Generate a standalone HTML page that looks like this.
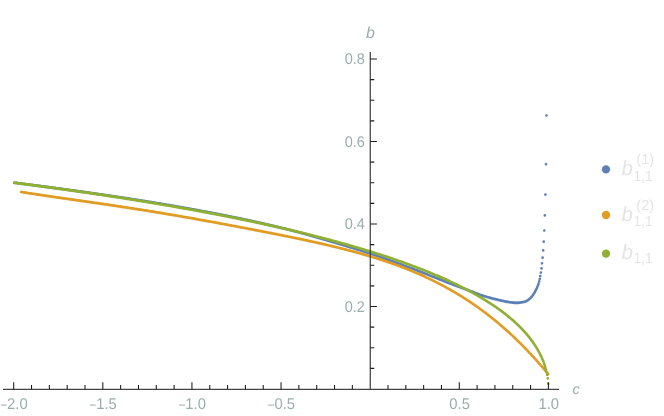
<!DOCTYPE html>
<html><head><meta charset="utf-8"><title>plot</title>
<style>
html,body{margin:0;padding:0;background:#fff;}
body{width:664px;height:416px;overflow:hidden;font-family:"Liberation Sans",sans-serif;}
svg{display:block;will-change:transform;}
text{font-family:"Liberation Sans",sans-serif;text-rendering:geometricPrecision;}
</style></head><body>
<svg width="664" height="416" viewBox="0 0 664 416">
<defs><filter id="nf" x="0" y="0" width="664" height="416" filterUnits="userSpaceOnUse"><feOffset dx="0" dy="0"/></filter></defs>
<rect width="664" height="416" fill="#fff"/>
<g fill="none" stroke-linecap="round" stroke-width="2.7">
<path stroke="#5e81b5" d="M14.3 182.8h0M14.9 182.9h0M15.4 183.0h0M16.0 183.0h0M16.6 183.1h0M17.1 183.2h0M17.7 183.2h0M18.2 183.3h0M18.8 183.4h0M19.4 183.5h0M19.9 183.5h0M20.5 183.6h0M21.1 183.7h0M21.6 183.7h0M22.2 183.8h0M22.7 183.9h0M23.3 184.0h0M23.9 184.0h0M24.4 184.1h0M25.0 184.2h0M25.6 184.2h0M26.1 184.3h0M26.7 184.4h0M27.3 184.5h0M27.8 184.5h0M28.4 184.6h0M28.9 184.7h0M29.5 184.7h0M30.1 184.8h0M30.6 184.9h0M31.2 185.0h0M31.8 185.0h0M32.3 185.1h0M32.9 185.2h0M33.5 185.2h0M34.0 185.3h0M34.6 185.4h0M35.1 185.5h0M35.7 185.5h0M36.3 185.6h0M36.8 185.7h0M37.4 185.8h0M38.0 185.8h0M38.5 185.9h0M39.1 186.0h0M39.6 186.0h0M40.2 186.1h0M40.8 186.2h0M41.3 186.3h0M41.9 186.3h0M42.5 186.4h0M43.0 186.5h0M43.6 186.6h0M44.2 186.6h0M44.7 186.7h0M45.3 186.8h0M45.8 186.9h0M46.4 186.9h0M47.0 187.0h0M47.5 187.1h0M48.1 187.2h0M48.7 187.2h0M49.2 187.3h0M49.8 187.4h0M50.3 187.5h0M50.9 187.5h0M51.5 187.6h0M52.0 187.7h0M52.6 187.8h0M53.2 187.8h0M53.7 187.9h0M54.3 188.0h0M54.9 188.1h0M55.4 188.1h0M56.0 188.2h0M56.5 188.3h0M57.1 188.4h0M57.7 188.4h0M58.2 188.5h0M58.8 188.6h0M59.4 188.7h0M59.9 188.7h0M60.5 188.8h0M61.0 188.9h0M61.6 189.0h0M62.2 189.0h0M62.7 189.1h0M63.3 189.2h0M63.9 189.3h0M64.4 189.3h0M65.0 189.4h0M65.6 189.5h0M66.1 189.6h0M66.7 189.7h0M67.2 189.7h0M67.8 189.8h0M68.4 189.9h0M68.9 190.0h0M69.5 190.0h0M70.1 190.1h0M70.6 190.2h0M71.2 190.3h0M71.7 190.4h0M72.3 190.4h0M72.9 190.5h0M73.4 190.6h0M74.0 190.7h0M74.6 190.7h0M75.1 190.8h0M75.7 190.9h0M76.3 191.0h0M76.8 191.1h0M77.4 191.1h0M77.9 191.2h0M78.5 191.3h0M79.1 191.4h0M79.6 191.4h0M80.2 191.5h0M80.8 191.6h0M81.3 191.7h0M81.9 191.8h0M82.4 191.8h0M83.0 191.9h0M83.6 192.0h0M84.1 192.1h0M84.7 192.2h0M85.3 192.2h0M85.8 192.3h0M86.4 192.4h0M87.0 192.5h0M87.5 192.6h0M88.1 192.6h0M88.6 192.7h0M89.2 192.8h0M89.8 192.9h0M90.3 193.0h0M90.9 193.0h0M91.5 193.1h0M92.0 193.2h0M92.6 193.3h0M93.2 193.4h0M93.7 193.4h0M94.3 193.5h0M94.8 193.6h0M95.4 193.7h0M96.0 193.8h0M96.5 193.9h0M97.1 193.9h0M97.7 194.0h0M98.2 194.1h0M98.8 194.2h0M99.3 194.3h0M99.9 194.3h0M100.5 194.4h0M101.0 194.5h0M101.6 194.6h0M102.2 194.7h0M102.7 194.8h0M103.3 194.8h0M103.9 194.9h0M104.4 195.0h0M105.0 195.1h0M105.5 195.2h0M106.1 195.3h0M106.7 195.3h0M107.2 195.4h0M107.8 195.5h0M108.4 195.6h0M108.9 195.7h0M109.5 195.8h0M110.0 195.8h0M110.6 195.9h0M111.2 196.0h0M111.7 196.1h0M112.3 196.2h0M112.9 196.3h0M113.4 196.3h0M114.0 196.4h0M114.6 196.5h0M115.1 196.6h0M115.7 196.7h0M116.2 196.8h0M116.8 196.9h0M117.4 196.9h0M117.9 197.0h0M118.5 197.1h0M119.1 197.2h0M119.6 197.3h0M120.2 197.4h0M120.7 197.4h0M121.3 197.5h0M121.9 197.6h0M122.4 197.7h0M123.0 197.8h0M123.6 197.9h0M124.1 198.0h0M124.7 198.1h0M125.3 198.1h0M125.8 198.2h0M126.4 198.3h0M126.9 198.4h0M127.5 198.5h0M128.1 198.6h0M128.6 198.7h0M129.2 198.7h0M129.8 198.8h0M130.3 198.9h0M130.9 199.0h0M131.4 199.1h0M132.0 199.2h0M132.6 199.3h0M133.1 199.4h0M133.7 199.4h0M134.3 199.5h0M134.8 199.6h0M135.4 199.7h0M136.0 199.8h0M136.5 199.9h0M137.1 200.0h0M137.6 200.1h0M138.2 200.2h0M138.8 200.2h0M139.3 200.3h0M139.9 200.4h0M140.5 200.5h0M141.0 200.6h0M141.6 200.7h0M142.1 200.8h0M142.7 200.9h0M143.3 201.0h0M143.8 201.1h0M144.4 201.1h0M145.0 201.2h0M145.5 201.3h0M146.1 201.4h0M146.7 201.5h0M147.2 201.6h0M147.8 201.7h0M148.3 201.8h0M148.9 201.9h0M149.5 202.0h0M150.0 202.1h0M150.6 202.1h0M151.2 202.2h0M151.7 202.3h0M152.3 202.4h0M152.9 202.5h0M153.4 202.6h0M154.0 202.7h0M154.5 202.8h0M155.1 202.9h0M155.7 203.0h0M156.2 203.1h0M156.8 203.2h0M157.4 203.3h0M157.9 203.4h0M158.5 203.4h0M159.0 203.5h0M159.6 203.6h0M160.2 203.7h0M160.7 203.8h0M161.3 203.9h0M161.9 204.0h0M162.4 204.1h0M163.0 204.2h0M163.6 204.3h0M164.1 204.4h0M164.7 204.5h0M165.2 204.6h0M165.8 204.7h0M166.4 204.8h0M166.9 204.9h0M167.5 205.0h0M168.1 205.1h0M168.6 205.2h0M169.2 205.2h0M169.7 205.3h0M170.3 205.4h0M170.9 205.5h0M171.4 205.6h0M172.0 205.7h0M172.6 205.8h0M173.1 205.9h0M173.7 206.0h0M174.3 206.1h0M174.8 206.2h0M175.4 206.3h0M175.9 206.4h0M176.5 206.5h0M177.1 206.6h0M177.6 206.7h0M178.2 206.8h0M178.8 206.9h0M179.3 207.0h0M179.9 207.1h0M180.4 207.2h0M181.0 207.3h0M181.6 207.4h0M182.1 207.5h0M182.7 207.6h0M183.3 207.7h0M183.8 207.8h0M184.4 207.9h0M185.0 208.0h0M185.5 208.1h0M186.1 208.2h0M186.6 208.3h0M187.2 208.4h0M187.8 208.5h0M188.3 208.6h0M188.9 208.7h0M189.5 208.8h0M190.0 208.9h0M190.6 209.0h0M191.1 209.1h0M191.7 209.2h0M192.3 209.3h0M192.8 209.4h0M193.4 209.5h0M194.0 209.6h0M194.5 209.7h0M195.1 209.8h0M195.7 209.9h0M196.2 210.0h0M196.8 210.1h0M197.3 210.2h0M197.9 210.3h0M198.5 210.4h0M199.0 210.5h0M199.6 210.6h0M200.2 210.7h0M200.7 210.8h0M201.3 211.0h0M201.8 211.1h0M202.4 211.2h0M203.0 211.3h0M203.5 211.4h0M204.1 211.5h0M204.7 211.6h0M205.2 211.7h0M205.8 211.8h0M206.4 211.9h0M206.9 212.0h0M207.5 212.1h0M208.0 212.2h0M208.6 212.3h0M209.2 212.4h0M209.7 212.5h0M210.3 212.6h0M210.9 212.7h0M211.4 212.9h0M212.0 213.0h0M212.6 213.1h0M213.1 213.2h0M213.7 213.3h0M214.2 213.4h0M214.8 213.5h0M215.4 213.6h0M215.9 213.7h0M216.5 213.8h0M217.1 213.9h0M217.6 214.0h0M218.2 214.2h0M218.7 214.3h0M219.3 214.4h0M219.9 214.5h0M220.4 214.6h0M221.0 214.7h0M221.6 214.8h0M222.1 214.9h0M222.7 215.0h0M223.3 215.1h0M223.8 215.3h0M224.4 215.4h0M224.9 215.5h0M225.5 215.6h0M226.1 215.7h0M226.6 215.8h0M227.2 215.9h0M227.8 216.0h0M228.3 216.2h0M228.9 216.3h0M229.4 216.4h0M230.0 216.5h0M230.6 216.6h0M231.1 216.7h0M231.7 216.8h0M232.3 217.0h0M232.8 217.1h0M233.4 217.2h0M234.0 217.3h0M234.5 217.4h0M235.1 217.5h0M235.6 217.6h0M236.2 217.8h0M236.8 217.9h0M237.3 218.0h0M237.9 218.1h0M238.5 218.2h0M239.0 218.3h0M239.6 218.5h0M240.1 218.6h0M240.7 218.7h0M241.3 218.8h0M241.8 218.9h0M242.4 219.0h0M243.0 219.2h0M243.5 219.3h0M244.1 219.4h0M244.7 219.5h0M245.2 219.6h0M245.8 219.8h0M246.3 219.9h0M246.9 220.0h0M247.5 220.1h0M248.0 220.2h0M248.6 220.4h0M249.2 220.5h0M249.7 220.6h0M250.3 220.7h0M250.8 220.9h0M251.4 221.0h0M252.0 221.1h0M252.5 221.2h0M253.1 221.4h0M253.7 221.5h0M254.2 221.6h0M254.8 221.7h0M255.4 221.8h0M255.9 222.0h0M256.5 222.1h0M257.0 222.2h0M257.6 222.3h0M258.2 222.5h0M258.7 222.6h0M259.3 222.7h0M259.9 222.8h0M260.4 223.0h0M261.0 223.1h0M261.5 223.2h0M262.1 223.4h0M262.7 223.5h0M263.2 223.6h0M263.8 223.7h0M264.4 223.9h0M264.9 224.0h0M265.5 224.1h0M266.1 224.3h0M266.6 224.4h0M267.2 224.5h0M267.7 224.6h0M268.3 224.8h0M268.9 224.9h0M269.4 225.0h0M270.0 225.2h0M270.6 225.3h0M271.1 225.4h0M271.7 225.6h0M272.3 225.7h0M272.8 225.8h0M273.4 226.0h0M273.9 226.1h0M274.5 226.2h0M275.1 226.4h0M275.6 226.5h0M276.2 226.6h0M276.8 226.8h0M277.3 226.9h0M277.9 227.0h0M278.4 227.2h0M279.0 227.3h0M279.6 227.4h0M280.1 227.6h0M280.7 227.7h0M281.3 227.9h0M281.8 228.0h0M282.4 228.1h0M283.0 228.3h0M283.5 228.4h0M284.1 228.5h0M284.6 228.7h0M285.2 228.8h0M285.8 229.0h0M286.3 229.1h0M286.9 229.2h0M287.5 229.4h0M288.0 229.5h0M288.6 229.7h0M289.1 229.8h0M289.7 230.0h0M290.3 230.1h0M290.8 230.2h0M291.4 230.4h0M292.0 230.5h0M292.5 230.7h0M293.1 230.8h0M293.7 231.0h0M294.2 231.1h0M294.8 231.3h0M295.3 231.4h0M295.9 231.6h0M296.5 231.7h0M297.0 231.9h0M297.6 232.0h0M298.2 232.2h0M298.7 232.3h0M299.3 232.5h0M299.8 232.6h0M300.4 232.8h0M301.0 232.9h0M301.5 233.1h0M302.1 233.2h0M302.7 233.4h0M303.2 233.6h0M303.8 233.7h0M304.4 233.9h0M304.9 234.0h0M305.5 234.2h0M306.0 234.3h0M306.6 234.5h0M307.2 234.7h0M307.7 234.8h0M308.3 235.0h0M308.9 235.1h0M309.4 235.3h0M310.0 235.5h0M310.5 235.6h0M311.1 235.8h0M311.7 235.9h0M312.2 236.1h0M312.8 236.3h0M313.4 236.4h0M313.9 236.6h0M314.5 236.7h0M315.1 236.9h0M315.6 237.1h0M316.2 237.2h0M316.7 237.4h0M317.3 237.6h0M317.9 237.7h0M318.4 237.9h0M319.0 238.1h0M319.6 238.2h0M320.1 238.4h0M320.7 238.5h0M321.2 238.7h0M321.8 238.9h0M322.4 239.0h0M322.9 239.2h0M323.5 239.4h0M324.1 239.5h0M324.6 239.7h0M325.2 239.9h0M325.8 240.0h0M326.3 240.2h0M326.9 240.4h0M327.4 240.5h0M328.0 240.7h0M328.6 240.9h0M329.1 241.0h0M329.7 241.2h0M330.3 241.4h0M330.8 241.5h0M331.4 241.7h0M332.0 241.9h0M332.5 242.0h0M333.1 242.2h0M333.6 242.3h0M334.2 242.5h0M334.8 242.7h0M335.3 242.8h0M335.9 243.0h0M336.5 243.2h0M337.0 243.3h0M337.6 243.5h0M338.1 243.7h0M338.7 243.8h0M339.3 244.0h0M339.8 244.2h0M340.4 244.3h0M341.0 244.5h0M341.5 244.7h0M342.1 244.9h0M342.7 245.0h0M343.2 245.2h0M343.8 245.4h0M344.3 245.5h0M344.9 245.7h0M345.5 245.9h0M346.0 246.0h0M346.6 246.2h0M347.2 246.4h0M347.7 246.5h0M348.3 246.7h0M348.8 246.9h0M349.4 247.1h0M350.0 247.2h0M350.5 247.4h0M351.1 247.6h0M351.7 247.7h0M352.2 247.9h0M352.8 248.1h0M353.4 248.3h0M353.9 248.4h0M354.5 248.6h0M355.0 248.8h0M355.6 249.0h0M356.2 249.1h0M356.7 249.3h0M357.3 249.5h0M357.9 249.7h0M358.4 249.8h0M359.0 250.0h0M359.5 250.2h0M360.1 250.4h0M360.7 250.5h0M361.2 250.7h0M361.8 250.9h0M362.4 251.1h0M362.9 251.3h0M363.5 251.4h0M364.1 251.6h0M364.6 251.8h0M365.2 252.0h0M365.7 252.2h0M366.3 252.3h0M366.9 252.5h0M367.4 252.7h0M368.0 252.9h0M368.6 253.1h0M369.1 253.3h0M369.7 253.4h0M370.2 253.6h0M370.8 253.8h0M371.4 254.0h0M371.9 254.2h0M372.5 254.4h0M373.1 254.6h0M373.6 254.7h0M374.2 254.9h0M374.8 255.1h0M375.3 255.3h0M375.9 255.5h0M376.4 255.7h0M377.0 255.9h0M377.6 256.1h0M378.1 256.3h0M378.7 256.5h0M379.3 256.7h0M379.8 256.8h0M380.4 257.0h0M380.9 257.2h0M381.5 257.4h0M382.1 257.6h0M382.6 257.8h0M383.2 258.0h0M383.8 258.2h0M384.3 258.4h0M384.9 258.6h0M385.5 258.8h0M386.0 259.0h0M386.6 259.2h0M387.1 259.4h0M387.7 259.6h0M388.3 259.8h0M388.8 260.0h0M389.4 260.2h0M390.0 260.4h0M390.5 260.6h0M391.1 260.8h0M391.7 261.0h0M392.2 261.2h0M392.8 261.4h0M393.3 261.6h0M393.9 261.8h0M394.5 262.1h0M395.0 262.3h0M395.6 262.5h0M396.2 262.7h0M396.7 262.9h0M397.3 263.1h0M397.8 263.3h0M398.4 263.5h0M399.0 263.7h0M399.5 263.9h0M400.1 264.1h0M400.7 264.3h0M401.2 264.5h0M401.8 264.7h0M402.4 265.0h0M402.9 265.2h0M403.5 265.4h0M404.0 265.6h0M404.6 265.8h0M405.2 266.0h0M405.7 266.2h0M406.3 266.4h0M406.9 266.6h0M407.4 266.8h0M408.0 267.1h0M408.5 267.3h0M409.1 267.5h0M409.7 267.7h0M410.2 267.9h0M410.8 268.1h0M411.4 268.3h0M411.9 268.5h0M412.5 268.7h0M413.1 269.0h0M413.6 269.2h0M414.2 269.4h0M414.7 269.6h0M415.3 269.8h0M415.9 270.0h0M416.4 270.2h0M417.0 270.5h0M417.6 270.7h0M418.1 270.9h0M418.7 271.1h0M419.2 271.3h0M419.8 271.5h0M420.4 271.8h0M420.9 272.0h0M421.5 272.2h0M422.1 272.4h0M422.6 272.6h0M423.2 272.9h0M423.8 273.1h0M424.3 273.3h0M424.9 273.5h0M425.4 273.7h0M426.0 274.0h0M426.6 274.2h0M427.1 274.4h0M427.7 274.6h0M428.3 274.9h0M428.8 275.1h0M429.4 275.3h0M429.9 275.5h0M430.5 275.8h0M431.1 276.0h0M431.6 276.2h0M432.2 276.4h0M432.8 276.7h0M433.3 276.9h0M433.9 277.1h0M434.5 277.3h0M435.0 277.6h0M435.6 277.8h0M436.1 278.0h0M436.7 278.2h0M437.3 278.5h0M437.8 278.7h0M438.4 278.9h0M439.0 279.1h0M439.5 279.4h0M440.1 279.6h0M440.6 279.8h0M441.2 280.1h0M441.8 280.3h0M442.3 280.5h0M442.9 280.7h0M443.5 281.0h0M444.0 281.2h0M444.6 281.4h0M445.2 281.6h0M445.7 281.9h0M446.3 282.1h0M446.8 282.3h0M447.4 282.5h0M448.0 282.8h0M448.5 283.0h0M449.1 283.2h0M449.7 283.4h0M450.2 283.6h0M450.8 283.8h0M451.4 284.0h0M451.9 284.2h0M452.5 284.5h0M453.0 284.7h0M453.6 284.9h0M454.2 285.1h0M454.7 285.3h0M455.3 285.5h0M455.9 285.7h0M456.4 285.9h0M457.0 286.1h0M457.5 286.3h0M458.1 286.5h0M458.7 286.7h0M459.2 286.9h0M459.8 287.1h0M460.4 287.3h0M460.9 287.6h0M461.5 287.8h0M462.1 288.0h0M462.6 288.2h0M463.2 288.4h0M463.7 288.6h0M464.3 288.8h0M464.9 289.0h0M465.4 289.2h0M466.0 289.4h0M466.6 289.6h0M467.1 289.8h0M467.7 290.0h0M468.2 290.2h0M468.8 290.4h0M469.4 290.7h0M469.9 290.9h0M470.5 291.1h0M471.1 291.3h0M471.6 291.5h0M472.2 291.7h0M472.8 292.0h0M473.3 292.2h0M473.9 292.4h0M474.4 292.6h0M475.0 292.8h0M475.6 293.1h0M476.1 293.3h0M476.7 293.5h0M477.3 293.7h0M477.8 293.9h0M478.4 294.1h0M478.9 294.3h0M479.5 294.6h0M480.1 294.8h0M480.6 295.0h0M481.2 295.2h0M481.8 295.4h0M482.3 295.6h0M482.9 295.7h0M483.5 295.9h0M484.0 296.1h0M484.6 296.3h0M485.1 296.5h0M485.7 296.6h0M486.3 296.8h0M486.8 297.0h0M487.4 297.1h0M488.0 297.3h0M488.5 297.4h0M489.1 297.6h0M489.6 297.8h0M490.2 297.9h0M490.8 298.1h0M491.3 298.2h0M491.9 298.4h0M492.5 298.5h0M493.0 298.7h0M493.6 298.8h0M494.2 299.0h0M494.7 299.1h0M495.3 299.2h0M495.8 299.4h0M496.4 299.5h0M497.0 299.6h0M497.5 299.8h0M498.1 299.9h0M498.7 300.0h0M499.2 300.2h0M499.8 300.3h0M500.3 300.4h0M500.9 300.6h0M501.5 300.7h0M502.0 300.8h0M502.6 301.0h0M503.2 301.1h0M503.7 301.2h0M504.3 301.3h0M504.9 301.4h0M505.4 301.6h0M506.0 301.7h0M506.5 301.8h0M507.1 301.9h0M507.7 301.9h0M508.2 302.0h0M508.8 302.1h0M509.4 302.2h0M509.9 302.3h0M510.5 302.3h0M511.1 302.4h0M511.6 302.5h0M512.2 302.6h0M512.7 302.6h0M513.3 302.7h0M513.9 302.8h0M514.4 302.8h0M515.0 302.8h0M515.6 302.9h0M516.1 302.9h0M516.7 302.9h0M517.2 302.9h0M517.8 302.9h0M518.4 302.8h0M518.9 302.8h0M519.5 302.7h0M520.1 302.7h0M520.6 302.6h0M521.2 302.5h0M521.8 302.4h0M522.3 302.3h0M522.9 302.2h0M523.4 302.1h0M524.0 302.0h0M524.6 301.8h0M525.1 301.7h0M525.7 301.5h0M526.3 301.2h0M526.8 300.9h0M527.4 300.6h0M527.9 300.2h0M528.5 299.8h0M529.1 299.3h0M529.6 298.8h0M530.2 298.3h0M530.8 297.8h0M531.3 297.2h0M531.9 296.5h0M532.5 295.8h0M533.0 295.0h0M533.6 294.2h0M534.1 293.3h0M534.7 292.4h0M535.3 291.3h0M535.8 290.2h0M536.4 289.0h0M537.0 287.8h0M537.5 286.6h0M538.1 285.2h0M538.6 283.4h0M539.2 281.3h0M539.8 278.9h0M540.3 276.0h0M540.9 272.6h0M541.5 268.4h0M542.0 263.3h0M542.6 257.7h0M543.2 250.4h0M543.7 241.7h0M544.3 230.5h0M544.8 215.4h0M545.4 194.6h0M546.0 164.2h0M546.5 115.5h0"/>
<path stroke="#e19c24" d="M21.1 192.0h0M21.6 192.1h0M22.2 192.2h0M22.7 192.3h0M23.3 192.4h0M23.9 192.5h0M24.4 192.6h0M25.0 192.7h0M25.6 192.7h0M26.1 192.8h0M26.7 192.9h0M27.3 193.0h0M27.8 193.1h0M28.4 193.2h0M28.9 193.3h0M29.5 193.4h0M30.1 193.4h0M30.6 193.5h0M31.2 193.6h0M31.8 193.7h0M32.3 193.8h0M32.9 193.9h0M33.5 194.0h0M34.0 194.0h0M34.6 194.1h0M35.1 194.2h0M35.7 194.3h0M36.3 194.4h0M36.8 194.5h0M37.4 194.6h0M38.0 194.6h0M38.5 194.7h0M39.1 194.8h0M39.6 194.9h0M40.2 195.0h0M40.8 195.1h0M41.3 195.2h0M41.9 195.2h0M42.5 195.3h0M43.0 195.4h0M43.6 195.5h0M44.2 195.6h0M44.7 195.7h0M45.3 195.7h0M45.8 195.8h0M46.4 195.9h0M47.0 196.0h0M47.5 196.1h0M48.1 196.2h0M48.7 196.2h0M49.2 196.3h0M49.8 196.4h0M50.3 196.5h0M50.9 196.6h0M51.5 196.7h0M52.0 196.7h0M52.6 196.8h0M53.2 196.9h0M53.7 197.0h0M54.3 197.1h0M54.9 197.1h0M55.4 197.2h0M56.0 197.3h0M56.5 197.4h0M57.1 197.5h0M57.7 197.6h0M58.2 197.6h0M58.8 197.7h0M59.4 197.8h0M59.9 197.9h0M60.5 198.0h0M61.0 198.0h0M61.6 198.1h0M62.2 198.2h0M62.7 198.3h0M63.3 198.4h0M63.9 198.4h0M64.4 198.5h0M65.0 198.6h0M65.6 198.7h0M66.1 198.8h0M66.7 198.8h0M67.2 198.9h0M67.8 199.0h0M68.4 199.1h0M68.9 199.2h0M69.5 199.3h0M70.1 199.3h0M70.6 199.4h0M71.2 199.5h0M71.7 199.6h0M72.3 199.7h0M72.9 199.7h0M73.4 199.8h0M74.0 199.9h0M74.6 200.0h0M75.1 200.1h0M75.7 200.1h0M76.3 200.2h0M76.8 200.3h0M77.4 200.4h0M77.9 200.5h0M78.5 200.5h0M79.1 200.6h0M79.6 200.7h0M80.2 200.8h0M80.8 200.9h0M81.3 200.9h0M81.9 201.0h0M82.4 201.1h0M83.0 201.2h0M83.6 201.3h0M84.1 201.4h0M84.7 201.4h0M85.3 201.5h0M85.8 201.6h0M86.4 201.7h0M87.0 201.8h0M87.5 201.8h0M88.1 201.9h0M88.6 202.0h0M89.2 202.1h0M89.8 202.2h0M90.3 202.2h0M90.9 202.3h0M91.5 202.4h0M92.0 202.5h0M92.6 202.6h0M93.2 202.6h0M93.7 202.7h0M94.3 202.8h0M94.8 202.9h0M95.4 203.0h0M96.0 203.1h0M96.5 203.1h0M97.1 203.2h0M97.7 203.3h0M98.2 203.4h0M98.8 203.5h0M99.3 203.5h0M99.9 203.6h0M100.5 203.7h0M101.0 203.8h0M101.6 203.9h0M102.2 204.0h0M102.7 204.0h0M103.3 204.1h0M103.9 204.2h0M104.4 204.3h0M105.0 204.4h0M105.5 204.5h0M106.1 204.5h0M106.7 204.6h0M107.2 204.7h0M107.8 204.8h0M108.4 204.9h0M108.9 204.9h0M109.5 205.0h0M110.0 205.1h0M110.6 205.2h0M111.2 205.3h0M111.7 205.4h0M112.3 205.4h0M112.9 205.5h0M113.4 205.6h0M114.0 205.7h0M114.6 205.8h0M115.1 205.9h0M115.7 206.0h0M116.2 206.0h0M116.8 206.1h0M117.4 206.2h0M117.9 206.3h0M118.5 206.4h0M119.1 206.5h0M119.6 206.5h0M120.2 206.6h0M120.7 206.7h0M121.3 206.8h0M121.9 206.9h0M122.4 207.0h0M123.0 207.1h0M123.6 207.1h0M124.1 207.2h0M124.7 207.3h0M125.3 207.4h0M125.8 207.5h0M126.4 207.6h0M126.9 207.7h0M127.5 207.7h0M128.1 207.8h0M128.6 207.9h0M129.2 208.0h0M129.8 208.1h0M130.3 208.2h0M130.9 208.3h0M131.4 208.3h0M132.0 208.4h0M132.6 208.5h0M133.1 208.6h0M133.7 208.7h0M134.3 208.8h0M134.8 208.9h0M135.4 209.0h0M136.0 209.0h0M136.5 209.1h0M137.1 209.2h0M137.6 209.3h0M138.2 209.4h0M138.8 209.5h0M139.3 209.6h0M139.9 209.7h0M140.5 209.8h0M141.0 209.8h0M141.6 209.9h0M142.1 210.0h0M142.7 210.1h0M143.3 210.2h0M143.8 210.3h0M144.4 210.4h0M145.0 210.5h0M145.5 210.6h0M146.1 210.6h0M146.7 210.7h0M147.2 210.8h0M147.8 210.9h0M148.3 211.0h0M148.9 211.1h0M149.5 211.2h0M150.0 211.3h0M150.6 211.4h0M151.2 211.5h0M151.7 211.6h0M152.3 211.6h0M152.9 211.7h0M153.4 211.8h0M154.0 211.9h0M154.5 212.0h0M155.1 212.1h0M155.7 212.2h0M156.2 212.3h0M156.8 212.4h0M157.4 212.5h0M157.9 212.6h0M158.5 212.7h0M159.0 212.8h0M159.6 212.8h0M160.2 212.9h0M160.7 213.0h0M161.3 213.1h0M161.9 213.2h0M162.4 213.3h0M163.0 213.4h0M163.6 213.5h0M164.1 213.6h0M164.7 213.7h0M165.2 213.8h0M165.8 213.9h0M166.4 214.0h0M166.9 214.1h0M167.5 214.2h0M168.1 214.3h0M168.6 214.3h0M169.2 214.4h0M169.7 214.5h0M170.3 214.6h0M170.9 214.7h0M171.4 214.8h0M172.0 214.9h0M172.6 215.0h0M173.1 215.1h0M173.7 215.2h0M174.3 215.3h0M174.8 215.4h0M175.4 215.5h0M175.9 215.6h0M176.5 215.7h0M177.1 215.8h0M177.6 215.9h0M178.2 216.0h0M178.8 216.1h0M179.3 216.2h0M179.9 216.3h0M180.4 216.4h0M181.0 216.5h0M181.6 216.6h0M182.1 216.7h0M182.7 216.8h0M183.3 216.9h0M183.8 217.0h0M184.4 217.1h0M185.0 217.2h0M185.5 217.3h0M186.1 217.4h0M186.6 217.4h0M187.2 217.5h0M187.8 217.6h0M188.3 217.7h0M188.9 217.8h0M189.5 217.9h0M190.0 218.0h0M190.6 218.1h0M191.1 218.2h0M191.7 218.3h0M192.3 218.4h0M192.8 218.5h0M193.4 218.6h0M194.0 218.7h0M194.5 218.8h0M195.1 218.9h0M195.7 219.0h0M196.2 219.1h0M196.8 219.2h0M197.3 219.3h0M197.9 219.4h0M198.5 219.5h0M199.0 219.7h0M199.6 219.8h0M200.2 219.9h0M200.7 220.0h0M201.3 220.1h0M201.8 220.2h0M202.4 220.3h0M203.0 220.4h0M203.5 220.5h0M204.1 220.6h0M204.7 220.7h0M205.2 220.8h0M205.8 220.9h0M206.4 221.0h0M206.9 221.1h0M207.5 221.2h0M208.0 221.3h0M208.6 221.4h0M209.2 221.5h0M209.7 221.6h0M210.3 221.7h0M210.9 221.8h0M211.4 221.9h0M212.0 222.0h0M212.6 222.1h0M213.1 222.2h0M213.7 222.3h0M214.2 222.4h0M214.8 222.5h0M215.4 222.6h0M215.9 222.7h0M216.5 222.8h0M217.1 222.9h0M217.6 223.0h0M218.2 223.1h0M218.7 223.2h0M219.3 223.4h0M219.9 223.5h0M220.4 223.6h0M221.0 223.7h0M221.6 223.8h0M222.1 223.9h0M222.7 224.0h0M223.3 224.1h0M223.8 224.2h0M224.4 224.3h0M224.9 224.4h0M225.5 224.5h0M226.1 224.6h0M226.6 224.7h0M227.2 224.8h0M227.8 224.9h0M228.3 225.0h0M228.9 225.1h0M229.4 225.2h0M230.0 225.3h0M230.6 225.5h0M231.1 225.6h0M231.7 225.7h0M232.3 225.8h0M232.8 225.9h0M233.4 226.0h0M234.0 226.1h0M234.5 226.2h0M235.1 226.3h0M235.6 226.4h0M236.2 226.5h0M236.8 226.6h0M237.3 226.7h0M237.9 226.8h0M238.5 226.9h0M239.0 227.0h0M239.6 227.1h0M240.1 227.3h0M240.7 227.4h0M241.3 227.5h0M241.8 227.6h0M242.4 227.7h0M243.0 227.8h0M243.5 227.9h0M244.1 228.0h0M244.7 228.1h0M245.2 228.2h0M245.8 228.3h0M246.3 228.4h0M246.9 228.5h0M247.5 228.6h0M248.0 228.8h0M248.6 228.9h0M249.2 229.0h0M249.7 229.1h0M250.3 229.2h0M250.8 229.3h0M251.4 229.4h0M252.0 229.5h0M252.5 229.6h0M253.1 229.7h0M253.7 229.8h0M254.2 229.9h0M254.8 230.1h0M255.4 230.2h0M255.9 230.3h0M256.5 230.4h0M257.0 230.5h0M257.6 230.6h0M258.2 230.7h0M258.7 230.8h0M259.3 230.9h0M259.9 231.0h0M260.4 231.1h0M261.0 231.2h0M261.5 231.4h0M262.1 231.5h0M262.7 231.6h0M263.2 231.7h0M263.8 231.8h0M264.4 231.9h0M264.9 232.0h0M265.5 232.1h0M266.1 232.2h0M266.6 232.3h0M267.2 232.5h0M267.7 232.6h0M268.3 232.7h0M268.9 232.8h0M269.4 232.9h0M270.0 233.0h0M270.6 233.1h0M271.1 233.2h0M271.7 233.3h0M272.3 233.5h0M272.8 233.6h0M273.4 233.7h0M273.9 233.8h0M274.5 233.9h0M275.1 234.0h0M275.6 234.1h0M276.2 234.2h0M276.8 234.3h0M277.3 234.5h0M277.9 234.6h0M278.4 234.7h0M279.0 234.8h0M279.6 234.9h0M280.1 235.0h0M280.7 235.1h0M281.3 235.2h0M281.8 235.4h0M282.4 235.5h0M283.0 235.6h0M283.5 235.7h0M284.1 235.8h0M284.6 235.9h0M285.2 236.0h0M285.8 236.2h0M286.3 236.3h0M286.9 236.4h0M287.5 236.5h0M288.0 236.6h0M288.6 236.7h0M289.1 236.8h0M289.7 237.0h0M290.3 237.1h0M290.8 237.2h0M291.4 237.3h0M292.0 237.4h0M292.5 237.5h0M293.1 237.7h0M293.7 237.8h0M294.2 237.9h0M294.8 238.0h0M295.3 238.1h0M295.9 238.2h0M296.5 238.4h0M297.0 238.5h0M297.6 238.6h0M298.2 238.7h0M298.7 238.8h0M299.3 238.9h0M299.8 239.1h0M300.4 239.2h0M301.0 239.3h0M301.5 239.4h0M302.1 239.5h0M302.7 239.7h0M303.2 239.8h0M303.8 239.9h0M304.4 240.0h0M304.9 240.1h0M305.5 240.3h0M306.0 240.4h0M306.6 240.5h0M307.2 240.6h0M307.7 240.7h0M308.3 240.9h0M308.9 241.0h0M309.4 241.1h0M310.0 241.2h0M310.5 241.4h0M311.1 241.5h0M311.7 241.6h0M312.2 241.7h0M312.8 241.8h0M313.4 242.0h0M313.9 242.1h0M314.5 242.2h0M315.1 242.3h0M315.6 242.5h0M316.2 242.6h0M316.7 242.7h0M317.3 242.8h0M317.9 243.0h0M318.4 243.1h0M319.0 243.2h0M319.6 243.4h0M320.1 243.5h0M320.7 243.6h0M321.2 243.7h0M321.8 243.9h0M322.4 244.0h0M322.9 244.1h0M323.5 244.2h0M324.1 244.4h0M324.6 244.5h0M325.2 244.6h0M325.8 244.8h0M326.3 244.9h0M326.9 245.0h0M327.4 245.2h0M328.0 245.3h0M328.6 245.4h0M329.1 245.6h0M329.7 245.7h0M330.3 245.8h0M330.8 246.0h0M331.4 246.1h0M332.0 246.2h0M332.5 246.4h0M333.1 246.5h0M333.6 246.6h0M334.2 246.8h0M334.8 246.9h0M335.3 247.0h0M335.9 247.2h0M336.5 247.3h0M337.0 247.4h0M337.6 247.6h0M338.1 247.7h0M338.7 247.9h0M339.3 248.0h0M339.8 248.1h0M340.4 248.3h0M341.0 248.4h0M341.5 248.6h0M342.1 248.7h0M342.7 248.8h0M343.2 249.0h0M343.8 249.1h0M344.3 249.3h0M344.9 249.4h0M345.5 249.6h0M346.0 249.7h0M346.6 249.9h0M347.2 250.0h0M347.7 250.1h0M348.3 250.3h0M348.8 250.4h0M349.4 250.6h0M350.0 250.7h0M350.5 250.9h0M351.1 251.0h0M351.7 251.2h0M352.2 251.3h0M352.8 251.5h0M353.4 251.6h0M353.9 251.8h0M354.5 251.9h0M355.0 252.1h0M355.6 252.2h0M356.2 252.4h0M356.7 252.6h0M357.3 252.7h0M357.9 252.9h0M358.4 253.0h0M359.0 253.2h0M359.5 253.3h0M360.1 253.5h0M360.7 253.6h0M361.2 253.8h0M361.8 254.0h0M362.4 254.1h0M362.9 254.3h0M363.5 254.4h0M364.1 254.6h0M364.6 254.8h0M365.2 254.9h0M365.7 255.1h0M366.3 255.3h0M366.9 255.4h0M367.4 255.6h0M368.0 255.8h0M368.6 255.9h0M369.1 256.1h0M369.7 256.3h0M370.2 256.4h0M370.8 256.6h0M371.4 256.8h0M371.9 256.9h0M372.5 257.1h0M373.1 257.3h0M373.6 257.5h0M374.2 257.6h0M374.8 257.8h0M375.3 258.0h0M375.9 258.2h0M376.4 258.3h0M377.0 258.5h0M377.6 258.7h0M378.1 258.9h0M378.7 259.0h0M379.3 259.2h0M379.8 259.4h0M380.4 259.6h0M380.9 259.8h0M381.5 260.0h0M382.1 260.1h0M382.6 260.3h0M383.2 260.5h0M383.8 260.7h0M384.3 260.9h0M384.9 261.1h0M385.5 261.3h0M386.0 261.4h0M386.6 261.6h0M387.1 261.8h0M387.7 262.0h0M388.3 262.2h0M388.8 262.4h0M389.4 262.6h0M390.0 262.8h0M390.5 263.0h0M391.1 263.2h0M391.7 263.4h0M392.2 263.6h0M392.8 263.8h0M393.3 264.0h0M393.9 264.2h0M394.5 264.4h0M395.0 264.6h0M395.6 264.8h0M396.2 265.0h0M396.7 265.2h0M397.3 265.4h0M397.8 265.6h0M398.4 265.8h0M399.0 266.0h0M399.5 266.2h0M400.1 266.5h0M400.7 266.7h0M401.2 266.9h0M401.8 267.1h0M402.4 267.3h0M402.9 267.5h0M403.5 267.7h0M404.0 268.0h0M404.6 268.2h0M405.2 268.4h0M405.7 268.6h0M406.3 268.8h0M406.9 269.1h0M407.4 269.3h0M408.0 269.5h0M408.5 269.7h0M409.1 270.0h0M409.7 270.2h0M410.2 270.4h0M410.8 270.7h0M411.4 270.9h0M411.9 271.1h0M412.5 271.3h0M413.1 271.6h0M413.6 271.8h0M414.2 272.1h0M414.7 272.3h0M415.3 272.5h0M415.9 272.8h0M416.4 273.0h0M417.0 273.3h0M417.6 273.5h0M418.1 273.7h0M418.7 274.0h0M419.2 274.2h0M419.8 274.5h0M420.4 274.7h0M420.9 275.0h0M421.5 275.2h0M422.1 275.5h0M422.6 275.7h0M423.2 276.0h0M423.8 276.2h0M424.3 276.5h0M424.9 276.8h0M425.4 277.0h0M426.0 277.3h0M426.6 277.5h0M427.1 277.8h0M427.7 278.1h0M428.3 278.3h0M428.8 278.6h0M429.4 278.9h0M429.9 279.1h0M430.5 279.4h0M431.1 279.7h0M431.6 280.0h0M432.2 280.2h0M432.8 280.5h0M433.3 280.8h0M433.9 281.1h0M434.5 281.3h0M435.0 281.6h0M435.6 281.9h0M436.1 282.2h0M436.7 282.5h0M437.3 282.8h0M437.8 283.1h0M438.4 283.3h0M439.0 283.6h0M439.5 283.9h0M440.1 284.2h0M440.6 284.5h0M441.2 284.8h0M441.8 285.1h0M442.3 285.4h0M442.9 285.7h0M443.5 286.0h0M444.0 286.3h0M444.6 286.6h0M445.2 286.9h0M445.7 287.2h0M446.3 287.5h0M446.8 287.8h0M447.4 288.2h0M448.0 288.5h0M448.5 288.8h0M449.1 289.1h0M449.7 289.4h0M450.2 289.7h0M450.8 290.1h0M451.4 290.4h0M451.9 290.7h0M452.5 291.0h0M453.0 291.4h0M453.6 291.7h0M454.2 292.0h0M454.7 292.3h0M455.3 292.7h0M455.9 293.0h0M456.4 293.3h0M457.0 293.7h0M457.5 294.0h0M458.1 294.4h0M458.7 294.7h0M459.2 295.0h0M459.8 295.4h0M460.4 295.7h0M460.9 296.1h0M461.5 296.4h0M462.1 296.8h0M462.6 297.1h0M463.2 297.5h0M463.7 297.9h0M464.3 298.2h0M464.9 298.6h0M465.4 298.9h0M466.0 299.3h0M466.6 299.7h0M467.1 300.0h0M467.7 300.4h0M468.2 300.8h0M468.8 301.1h0M469.4 301.5h0M469.9 301.9h0M470.5 302.3h0M471.1 302.7h0M471.6 303.0h0M472.2 303.4h0M472.8 303.8h0M473.3 304.2h0M473.9 304.6h0M474.4 305.0h0M475.0 305.4h0M475.6 305.7h0M476.1 306.1h0M476.7 306.5h0M477.3 306.9h0M477.8 307.3h0M478.4 307.7h0M478.9 308.1h0M479.5 308.6h0M480.1 309.0h0M480.6 309.4h0M481.2 309.8h0M481.8 310.2h0M482.3 310.6h0M482.9 311.0h0M483.5 311.4h0M484.0 311.9h0M484.6 312.3h0M485.1 312.7h0M485.7 313.1h0M486.3 313.6h0M486.8 314.0h0M487.4 314.4h0M488.0 314.9h0M488.5 315.3h0M489.1 315.7h0M489.6 316.2h0M490.2 316.6h0M490.8 317.1h0M491.3 317.5h0M491.9 318.0h0M492.5 318.4h0M493.0 318.9h0M493.6 319.3h0M494.2 319.8h0M494.7 320.2h0M495.3 320.7h0M495.8 321.2h0M496.4 321.6h0M497.0 322.1h0M497.5 322.6h0M498.1 323.0h0M498.7 323.5h0M499.2 324.0h0M499.8 324.5h0M500.3 324.9h0M500.9 325.4h0M501.5 325.9h0M502.0 326.4h0M502.6 326.9h0M503.2 327.4h0M503.7 327.9h0M504.3 328.4h0M504.9 328.9h0M505.4 329.4h0M506.0 329.9h0M506.5 330.4h0M507.1 330.9h0M507.7 331.4h0M508.2 331.9h0M508.8 332.4h0M509.4 332.9h0M509.9 333.4h0M510.5 333.9h0M511.1 334.5h0M511.6 335.0h0M512.2 335.5h0M512.7 336.0h0M513.3 336.6h0M513.9 337.1h0M514.4 337.6h0M515.0 338.2h0M515.6 338.7h0M516.1 339.3h0M516.7 339.8h0M517.2 340.3h0M517.8 340.9h0M518.4 341.4h0M518.9 342.0h0M519.5 342.6h0M520.1 343.1h0M520.6 343.7h0M521.2 344.2h0M521.8 344.8h0M522.3 345.4h0M522.9 345.9h0M523.4 346.5h0M524.0 347.1h0M524.6 347.7h0M525.1 348.2h0M525.7 348.8h0M526.3 349.4h0M526.8 350.0h0M527.4 350.6h0M527.9 351.2h0M528.5 351.8h0M529.1 352.4h0M529.6 353.0h0M530.2 353.6h0M530.8 354.2h0M531.3 354.8h0M531.9 355.4h0M532.5 356.0h0M533.0 356.6h0M533.6 357.2h0M534.1 357.8h0M534.7 358.5h0M535.3 359.1h0M535.8 359.7h0M536.4 360.3h0M537.0 361.0h0M537.5 361.6h0M538.1 362.2h0M538.6 362.9h0M539.2 363.5h0M539.8 364.2h0M540.3 364.8h0M540.9 365.5h0M541.5 366.1h0M542.0 366.8h0M542.6 367.4h0M543.2 368.1h0M543.7 368.7h0M544.3 369.4h0M544.8 370.1h0M545.4 370.7h0M546.0 371.4h0M546.5 372.1h0M547.1 372.8h0M547.7 373.4h0M548.2 374.1h0"/>
<path stroke="#8fb032" d="M14.3 182.8h0M14.9 182.9h0M15.4 183.0h0M16.0 183.0h0M16.6 183.1h0M17.1 183.2h0M17.7 183.3h0M18.2 183.3h0M18.8 183.4h0M19.4 183.5h0M19.9 183.6h0M20.5 183.6h0M21.1 183.7h0M21.6 183.8h0M22.2 183.8h0M22.7 183.9h0M23.3 184.0h0M23.9 184.1h0M24.4 184.1h0M25.0 184.2h0M25.6 184.3h0M26.1 184.4h0M26.7 184.4h0M27.3 184.5h0M27.8 184.6h0M28.4 184.7h0M28.9 184.7h0M29.5 184.8h0M30.1 184.9h0M30.6 185.0h0M31.2 185.0h0M31.8 185.1h0M32.3 185.2h0M32.9 185.3h0M33.5 185.3h0M34.0 185.4h0M34.6 185.5h0M35.1 185.6h0M35.7 185.6h0M36.3 185.7h0M36.8 185.8h0M37.4 185.9h0M38.0 185.9h0M38.5 186.0h0M39.1 186.1h0M39.6 186.2h0M40.2 186.2h0M40.8 186.3h0M41.3 186.4h0M41.9 186.5h0M42.5 186.5h0M43.0 186.6h0M43.6 186.7h0M44.2 186.8h0M44.7 186.8h0M45.3 186.9h0M45.8 187.0h0M46.4 187.1h0M47.0 187.1h0M47.5 187.2h0M48.1 187.3h0M48.7 187.4h0M49.2 187.5h0M49.8 187.5h0M50.3 187.6h0M50.9 187.7h0M51.5 187.8h0M52.0 187.8h0M52.6 187.9h0M53.2 188.0h0M53.7 188.1h0M54.3 188.2h0M54.9 188.2h0M55.4 188.3h0M56.0 188.4h0M56.5 188.5h0M57.1 188.5h0M57.7 188.6h0M58.2 188.7h0M58.8 188.8h0M59.4 188.9h0M59.9 188.9h0M60.5 189.0h0M61.0 189.1h0M61.6 189.2h0M62.2 189.2h0M62.7 189.3h0M63.3 189.4h0M63.9 189.5h0M64.4 189.6h0M65.0 189.6h0M65.6 189.7h0M66.1 189.8h0M66.7 189.9h0M67.2 190.0h0M67.8 190.0h0M68.4 190.1h0M68.9 190.2h0M69.5 190.3h0M70.1 190.4h0M70.6 190.4h0M71.2 190.5h0M71.7 190.6h0M72.3 190.7h0M72.9 190.8h0M73.4 190.8h0M74.0 190.9h0M74.6 191.0h0M75.1 191.1h0M75.7 191.2h0M76.3 191.2h0M76.8 191.3h0M77.4 191.4h0M77.9 191.5h0M78.5 191.6h0M79.1 191.6h0M79.6 191.7h0M80.2 191.8h0M80.8 191.9h0M81.3 192.0h0M81.9 192.1h0M82.4 192.1h0M83.0 192.2h0M83.6 192.3h0M84.1 192.4h0M84.7 192.5h0M85.3 192.5h0M85.8 192.6h0M86.4 192.7h0M87.0 192.8h0M87.5 192.9h0M88.1 193.0h0M88.6 193.0h0M89.2 193.1h0M89.8 193.2h0M90.3 193.3h0M90.9 193.4h0M91.5 193.5h0M92.0 193.5h0M92.6 193.6h0M93.2 193.7h0M93.7 193.8h0M94.3 193.9h0M94.8 194.0h0M95.4 194.0h0M96.0 194.1h0M96.5 194.2h0M97.1 194.3h0M97.7 194.4h0M98.2 194.5h0M98.8 194.5h0M99.3 194.6h0M99.9 194.7h0M100.5 194.8h0M101.0 194.9h0M101.6 195.0h0M102.2 195.0h0M102.7 195.1h0M103.3 195.2h0M103.9 195.3h0M104.4 195.4h0M105.0 195.5h0M105.5 195.6h0M106.1 195.6h0M106.7 195.7h0M107.2 195.8h0M107.8 195.9h0M108.4 196.0h0M108.9 196.1h0M109.5 196.2h0M110.0 196.2h0M110.6 196.3h0M111.2 196.4h0M111.7 196.5h0M112.3 196.6h0M112.9 196.7h0M113.4 196.8h0M114.0 196.8h0M114.6 196.9h0M115.1 197.0h0M115.7 197.1h0M116.2 197.2h0M116.8 197.3h0M117.4 197.4h0M117.9 197.5h0M118.5 197.5h0M119.1 197.6h0M119.6 197.7h0M120.2 197.8h0M120.7 197.9h0M121.3 198.0h0M121.9 198.1h0M122.4 198.2h0M123.0 198.2h0M123.6 198.3h0M124.1 198.4h0M124.7 198.5h0M125.3 198.6h0M125.8 198.7h0M126.4 198.8h0M126.9 198.9h0M127.5 199.0h0M128.1 199.0h0M128.6 199.1h0M129.2 199.2h0M129.8 199.3h0M130.3 199.4h0M130.9 199.5h0M131.4 199.6h0M132.0 199.7h0M132.6 199.8h0M133.1 199.9h0M133.7 199.9h0M134.3 200.0h0M134.8 200.1h0M135.4 200.2h0M136.0 200.3h0M136.5 200.4h0M137.1 200.5h0M137.6 200.6h0M138.2 200.7h0M138.8 200.8h0M139.3 200.8h0M139.9 200.9h0M140.5 201.0h0M141.0 201.1h0M141.6 201.2h0M142.1 201.3h0M142.7 201.4h0M143.3 201.5h0M143.8 201.6h0M144.4 201.7h0M145.0 201.8h0M145.5 201.9h0M146.1 202.0h0M146.7 202.0h0M147.2 202.1h0M147.8 202.2h0M148.3 202.3h0M148.9 202.4h0M149.5 202.5h0M150.0 202.6h0M150.6 202.7h0M151.2 202.8h0M151.7 202.9h0M152.3 203.0h0M152.9 203.1h0M153.4 203.2h0M154.0 203.3h0M154.5 203.4h0M155.1 203.4h0M155.7 203.5h0M156.2 203.6h0M156.8 203.7h0M157.4 203.8h0M157.9 203.9h0M158.5 204.0h0M159.0 204.1h0M159.6 204.2h0M160.2 204.3h0M160.7 204.4h0M161.3 204.5h0M161.9 204.6h0M162.4 204.7h0M163.0 204.8h0M163.6 204.9h0M164.1 205.0h0M164.7 205.1h0M165.2 205.2h0M165.8 205.3h0M166.4 205.4h0M166.9 205.5h0M167.5 205.5h0M168.1 205.6h0M168.6 205.7h0M169.2 205.8h0M169.7 205.9h0M170.3 206.0h0M170.9 206.1h0M171.4 206.2h0M172.0 206.3h0M172.6 206.4h0M173.1 206.5h0M173.7 206.6h0M174.3 206.7h0M174.8 206.8h0M175.4 206.9h0M175.9 207.0h0M176.5 207.1h0M177.1 207.2h0M177.6 207.3h0M178.2 207.4h0M178.8 207.5h0M179.3 207.6h0M179.9 207.7h0M180.4 207.8h0M181.0 207.9h0M181.6 208.0h0M182.1 208.1h0M182.7 208.2h0M183.3 208.3h0M183.8 208.4h0M184.4 208.5h0M185.0 208.6h0M185.5 208.7h0M186.1 208.8h0M186.6 208.9h0M187.2 209.0h0M187.8 209.1h0M188.3 209.2h0M188.9 209.3h0M189.5 209.4h0M190.0 209.5h0M190.6 209.6h0M191.1 209.7h0M191.7 209.8h0M192.3 209.9h0M192.8 210.0h0M193.4 210.1h0M194.0 210.2h0M194.5 210.3h0M195.1 210.4h0M195.7 210.5h0M196.2 210.6h0M196.8 210.8h0M197.3 210.9h0M197.9 211.0h0M198.5 211.1h0M199.0 211.2h0M199.6 211.3h0M200.2 211.4h0M200.7 211.5h0M201.3 211.6h0M201.8 211.7h0M202.4 211.8h0M203.0 211.9h0M203.5 212.0h0M204.1 212.1h0M204.7 212.2h0M205.2 212.3h0M205.8 212.4h0M206.4 212.5h0M206.9 212.6h0M207.5 212.7h0M208.0 212.8h0M208.6 213.0h0M209.2 213.1h0M209.7 213.2h0M210.3 213.3h0M210.9 213.4h0M211.4 213.5h0M212.0 213.6h0M212.6 213.7h0M213.1 213.8h0M213.7 213.9h0M214.2 214.0h0M214.8 214.1h0M215.4 214.2h0M215.9 214.3h0M216.5 214.5h0M217.1 214.6h0M217.6 214.7h0M218.2 214.8h0M218.7 214.9h0M219.3 215.0h0M219.9 215.1h0M220.4 215.2h0M221.0 215.3h0M221.6 215.4h0M222.1 215.5h0M222.7 215.7h0M223.3 215.8h0M223.8 215.9h0M224.4 216.0h0M224.9 216.1h0M225.5 216.2h0M226.1 216.3h0M226.6 216.4h0M227.2 216.5h0M227.8 216.7h0M228.3 216.8h0M228.9 216.9h0M229.4 217.0h0M230.0 217.1h0M230.6 217.2h0M231.1 217.3h0M231.7 217.4h0M232.3 217.6h0M232.8 217.7h0M233.4 217.8h0M234.0 217.9h0M234.5 218.0h0M235.1 218.1h0M235.6 218.2h0M236.2 218.3h0M236.8 218.5h0M237.3 218.6h0M237.9 218.7h0M238.5 218.8h0M239.0 218.9h0M239.6 219.0h0M240.1 219.1h0M240.7 219.3h0M241.3 219.4h0M241.8 219.5h0M242.4 219.6h0M243.0 219.7h0M243.5 219.8h0M244.1 220.0h0M244.7 220.1h0M245.2 220.2h0M245.8 220.3h0M246.3 220.4h0M246.9 220.5h0M247.5 220.7h0M248.0 220.8h0M248.6 220.9h0M249.2 221.0h0M249.7 221.1h0M250.3 221.2h0M250.8 221.4h0M251.4 221.5h0M252.0 221.6h0M252.5 221.7h0M253.1 221.8h0M253.7 222.0h0M254.2 222.1h0M254.8 222.2h0M255.4 222.3h0M255.9 222.4h0M256.5 222.5h0M257.0 222.7h0M257.6 222.8h0M258.2 222.9h0M258.7 223.0h0M259.3 223.2h0M259.9 223.3h0M260.4 223.4h0M261.0 223.5h0M261.5 223.6h0M262.1 223.8h0M262.7 223.9h0M263.2 224.0h0M263.8 224.1h0M264.4 224.2h0M264.9 224.4h0M265.5 224.5h0M266.1 224.6h0M266.6 224.7h0M267.2 224.9h0M267.7 225.0h0M268.3 225.1h0M268.9 225.2h0M269.4 225.4h0M270.0 225.5h0M270.6 225.6h0M271.1 225.7h0M271.7 225.9h0M272.3 226.0h0M272.8 226.1h0M273.4 226.2h0M273.9 226.4h0M274.5 226.5h0M275.1 226.6h0M275.6 226.7h0M276.2 226.9h0M276.8 227.0h0M277.3 227.1h0M277.9 227.2h0M278.4 227.4h0M279.0 227.5h0M279.6 227.6h0M280.1 227.8h0M280.7 227.9h0M281.3 228.0h0M281.8 228.1h0M282.4 228.3h0M283.0 228.4h0M283.5 228.5h0M284.1 228.7h0M284.6 228.8h0M285.2 228.9h0M285.8 229.0h0M286.3 229.2h0M286.9 229.3h0M287.5 229.4h0M288.0 229.6h0M288.6 229.7h0M289.1 229.8h0M289.7 230.0h0M290.3 230.1h0M290.8 230.2h0M291.4 230.4h0M292.0 230.5h0M292.5 230.6h0M293.1 230.8h0M293.7 230.9h0M294.2 231.0h0M294.8 231.2h0M295.3 231.3h0M295.9 231.4h0M296.5 231.6h0M297.0 231.7h0M297.6 231.8h0M298.2 232.0h0M298.7 232.1h0M299.3 232.2h0M299.8 232.4h0M300.4 232.5h0M301.0 232.6h0M301.5 232.8h0M302.1 232.9h0M302.7 233.1h0M303.2 233.2h0M303.8 233.3h0M304.4 233.5h0M304.9 233.6h0M305.5 233.7h0M306.0 233.9h0M306.6 234.0h0M307.2 234.2h0M307.7 234.3h0M308.3 234.4h0M308.9 234.6h0M309.4 234.7h0M310.0 234.9h0M310.5 235.0h0M311.1 235.1h0M311.7 235.3h0M312.2 235.4h0M312.8 235.6h0M313.4 235.7h0M313.9 235.8h0M314.5 236.0h0M315.1 236.1h0M315.6 236.3h0M316.2 236.4h0M316.7 236.6h0M317.3 236.7h0M317.9 236.8h0M318.4 237.0h0M319.0 237.1h0M319.6 237.3h0M320.1 237.4h0M320.7 237.6h0M321.2 237.7h0M321.8 237.9h0M322.4 238.0h0M322.9 238.2h0M323.5 238.3h0M324.1 238.4h0M324.6 238.6h0M325.2 238.7h0M325.8 238.9h0M326.3 239.0h0M326.9 239.2h0M327.4 239.3h0M328.0 239.5h0M328.6 239.6h0M329.1 239.8h0M329.7 239.9h0M330.3 240.1h0M330.8 240.2h0M331.4 240.4h0M332.0 240.5h0M332.5 240.7h0M333.1 240.8h0M333.6 241.0h0M334.2 241.1h0M334.8 241.3h0M335.3 241.4h0M335.9 241.6h0M336.5 241.7h0M337.0 241.9h0M337.6 242.0h0M338.1 242.2h0M338.7 242.4h0M339.3 242.5h0M339.8 242.7h0M340.4 242.8h0M341.0 243.0h0M341.5 243.1h0M342.1 243.3h0M342.7 243.4h0M343.2 243.6h0M343.8 243.8h0M344.3 243.9h0M344.9 244.1h0M345.5 244.2h0M346.0 244.4h0M346.6 244.5h0M347.2 244.7h0M347.7 244.9h0M348.3 245.0h0M348.8 245.2h0M349.4 245.3h0M350.0 245.5h0M350.5 245.7h0M351.1 245.8h0M351.7 246.0h0M352.2 246.2h0M352.8 246.3h0M353.4 246.5h0M353.9 246.6h0M354.5 246.8h0M355.0 247.0h0M355.6 247.1h0M356.2 247.3h0M356.7 247.5h0M357.3 247.6h0M357.9 247.8h0M358.4 248.0h0M359.0 248.1h0M359.5 248.3h0M360.1 248.5h0M360.7 248.6h0M361.2 248.8h0M361.8 249.0h0M362.4 249.1h0M362.9 249.3h0M363.5 249.5h0M364.1 249.6h0M364.6 249.8h0M365.2 250.0h0M365.7 250.1h0M366.3 250.3h0M366.9 250.5h0M367.4 250.7h0M368.0 250.8h0M368.6 251.0h0M369.1 251.2h0M369.7 251.4h0M370.2 251.5h0M370.8 251.7h0M371.4 251.9h0M371.9 252.0h0M372.5 252.2h0M373.1 252.4h0M373.6 252.6h0M374.2 252.8h0M374.8 252.9h0M375.3 253.1h0M375.9 253.3h0M376.4 253.5h0M377.0 253.6h0M377.6 253.8h0M378.1 254.0h0M378.7 254.2h0M379.3 254.4h0M379.8 254.5h0M380.4 254.7h0M380.9 254.9h0M381.5 255.1h0M382.1 255.3h0M382.6 255.4h0M383.2 255.6h0M383.8 255.8h0M384.3 256.0h0M384.9 256.2h0M385.5 256.4h0M386.0 256.6h0M386.6 256.7h0M387.1 256.9h0M387.7 257.1h0M388.3 257.3h0M388.8 257.5h0M389.4 257.7h0M390.0 257.9h0M390.5 258.1h0M391.1 258.2h0M391.7 258.4h0M392.2 258.6h0M392.8 258.8h0M393.3 259.0h0M393.9 259.2h0M394.5 259.4h0M395.0 259.6h0M395.6 259.8h0M396.2 260.0h0M396.7 260.2h0M397.3 260.4h0M397.8 260.6h0M398.4 260.8h0M399.0 261.0h0M399.5 261.2h0M400.1 261.3h0M400.7 261.5h0M401.2 261.7h0M401.8 261.9h0M402.4 262.1h0M402.9 262.3h0M403.5 262.5h0M404.0 262.7h0M404.6 262.9h0M405.2 263.2h0M405.7 263.4h0M406.3 263.6h0M406.9 263.8h0M407.4 264.0h0M408.0 264.2h0M408.5 264.4h0M409.1 264.6h0M409.7 264.8h0M410.2 265.0h0M410.8 265.2h0M411.4 265.4h0M411.9 265.6h0M412.5 265.8h0M413.1 266.0h0M413.6 266.3h0M414.2 266.5h0M414.7 266.7h0M415.3 266.9h0M415.9 267.1h0M416.4 267.3h0M417.0 267.5h0M417.6 267.8h0M418.1 268.0h0M418.7 268.2h0M419.2 268.4h0M419.8 268.6h0M420.4 268.8h0M420.9 269.1h0M421.5 269.3h0M422.1 269.5h0M422.6 269.7h0M423.2 269.9h0M423.8 270.2h0M424.3 270.4h0M424.9 270.6h0M425.4 270.8h0M426.0 271.1h0M426.6 271.3h0M427.1 271.5h0M427.7 271.8h0M428.3 272.0h0M428.8 272.2h0M429.4 272.4h0M429.9 272.7h0M430.5 272.9h0M431.1 273.1h0M431.6 273.4h0M432.2 273.6h0M432.8 273.8h0M433.3 274.1h0M433.9 274.3h0M434.5 274.5h0M435.0 274.8h0M435.6 275.0h0M436.1 275.3h0M436.7 275.5h0M437.3 275.7h0M437.8 276.0h0M438.4 276.2h0M439.0 276.5h0M439.5 276.7h0M440.1 277.0h0M440.6 277.2h0M441.2 277.5h0M441.8 277.7h0M442.3 277.9h0M442.9 278.2h0M443.5 278.4h0M444.0 278.7h0M444.6 279.0h0M445.2 279.2h0M445.7 279.5h0M446.3 279.7h0M446.8 280.0h0M447.4 280.2h0M448.0 280.5h0M448.5 280.7h0M449.1 281.0h0M449.7 281.3h0M450.2 281.5h0M450.8 281.8h0M451.4 282.0h0M451.9 282.3h0M452.5 282.6h0M453.0 282.8h0M453.6 283.1h0M454.2 283.4h0M454.7 283.7h0M455.3 283.9h0M455.9 284.2h0M456.4 284.5h0M457.0 284.7h0M457.5 285.0h0M458.1 285.3h0M458.7 285.6h0M459.2 285.9h0M459.8 286.1h0M460.4 286.4h0M460.9 286.7h0M461.5 287.0h0M462.1 287.3h0M462.6 287.5h0M463.2 287.8h0M463.7 288.1h0M464.3 288.4h0M464.9 288.7h0M465.4 289.0h0M466.0 289.3h0M466.6 289.6h0M467.1 289.9h0M467.7 290.2h0M468.2 290.5h0M468.8 290.8h0M469.4 291.1h0M469.9 291.4h0M470.5 291.7h0M471.1 292.0h0M471.6 292.3h0M472.2 292.6h0M472.8 292.9h0M473.3 293.2h0M473.9 293.5h0M474.4 293.9h0M475.0 294.2h0M475.6 294.5h0M476.1 294.8h0M476.7 295.1h0M477.3 295.4h0M477.8 295.8h0M478.4 296.1h0M478.9 296.4h0M479.5 296.7h0M480.1 297.1h0M480.6 297.4h0M481.2 297.7h0M481.8 298.1h0M482.3 298.4h0M482.9 298.8h0M483.5 299.1h0M484.0 299.4h0M484.6 299.8h0M485.1 300.1h0M485.7 300.5h0M486.3 300.8h0M486.8 301.2h0M487.4 301.5h0M488.0 301.9h0M488.5 302.3h0M489.1 302.6h0M489.6 303.0h0M490.2 303.3h0M490.8 303.7h0M491.3 304.1h0M491.9 304.5h0M492.5 304.8h0M493.0 305.2h0M493.6 305.6h0M494.2 306.0h0M494.7 306.4h0M495.3 306.7h0M495.8 307.1h0M496.4 307.5h0M497.0 307.9h0M497.5 308.3h0M498.1 308.7h0M498.7 309.1h0M499.2 309.5h0M499.8 309.9h0M500.3 310.3h0M500.9 310.8h0M501.5 311.2h0M502.0 311.6h0M502.6 312.0h0M503.2 312.4h0M503.7 312.9h0M504.3 313.3h0M504.9 313.7h0M505.4 314.2h0M506.0 314.6h0M506.5 315.1h0M507.1 315.5h0M507.7 316.0h0M508.2 316.4h0M508.8 316.9h0M509.4 317.4h0M509.9 317.8h0M510.5 318.3h0M511.1 318.8h0M511.6 319.3h0M512.2 319.7h0M512.7 320.2h0M513.3 320.7h0M513.9 321.2h0M514.4 321.7h0M515.0 322.3h0M515.6 322.8h0M516.1 323.3h0M516.7 323.8h0M517.2 324.3h0M517.8 324.9h0M518.4 325.4h0M518.9 326.0h0M519.5 326.5h0M520.1 327.1h0M520.6 327.7h0M521.2 328.2h0M521.8 328.8h0M522.3 329.4h0M522.9 330.0h0M523.4 330.6h0M524.0 331.2h0M524.6 331.8h0M525.1 332.5h0M525.7 333.1h0M526.3 333.8h0M526.8 334.4h0M527.4 335.1h0M527.9 335.8h0M528.5 336.4h0M529.1 337.1h0M529.6 337.9h0M530.2 338.6h0M530.8 339.3h0M531.3 340.1h0M531.9 340.8h0M532.5 341.6h0M533.0 342.4h0M533.6 343.2h0M534.1 344.0h0M534.7 344.9h0M535.3 345.8h0M535.8 346.6h0M536.4 347.5h0M537.0 348.5h0M537.5 349.4h0M538.1 350.4h0M538.6 351.4h0M539.2 352.5h0M539.8 353.6h0M540.3 354.7h0M540.9 355.9h0M541.5 357.1h0M542.0 358.4h0M542.6 359.7h0M543.2 361.1h0M543.7 362.6h0M544.3 364.2h0M544.8 365.9h0M545.4 367.7h0M546.0 369.8h0M546.5 372.1h0M547.1 374.8h0M547.7 378.3h0M548.2 383.7h0"/>
</g>
<g stroke="#444" fill="none">
<path stroke-width="1.25" d="M3 389.3H559M370.28 389.3V52.1"/>
<path stroke="#1a1a1a" stroke-width="1.05" d="M13.71 389.3v-7.1M31.53 389.3v-4.4M49.36 389.3v-4.4M67.18 389.3v-4.4M85.00 389.3v-4.4M102.83 389.3v-7.1M120.65 389.3v-4.4M138.47 389.3v-4.4M156.29 389.3v-4.4M174.12 389.3v-4.4M191.94 389.3v-7.1M209.76 389.3v-4.4M227.59 389.3v-4.4M245.41 389.3v-4.4M263.23 389.3v-4.4M281.06 389.3v-7.1M298.88 389.3v-4.4M316.70 389.3v-4.4M334.52 389.3v-4.4M352.35 389.3v-4.4M387.99 389.3v-4.4M405.82 389.3v-4.4M423.64 389.3v-4.4M441.46 389.3v-4.4M459.29 389.3v-7.1M477.11 389.3v-4.4M494.93 389.3v-4.4M512.75 389.3v-4.4M530.58 389.3v-4.4M548.40 389.3v-7.1M370.28 368.38h4.0M370.28 347.75h4.0M370.28 327.12h4.0M370.28 306.50h6.6M370.28 285.88h4.0M370.28 265.25h4.0M370.28 244.62h4.0M370.28 224.00h6.6M370.28 203.38h4.0M370.28 182.75h4.0M370.28 162.12h4.0M370.28 141.50h6.6M370.28 120.88h4.0M370.28 100.25h4.0M370.28 79.62h4.0M370.28 59.00h6.6"/>
</g>
<g fill="#9aadac" font-size="15.5px" filter="url(#nf)">
<text x="17.4" y="408.5" text-anchor="middle" textLength="20.6" lengthAdjust="spacingAndGlyphs">2.0</text>
<text x="106.5" y="408.5" text-anchor="middle" textLength="20.6" lengthAdjust="spacingAndGlyphs">1.5</text>
<text x="195.6" y="408.5" text-anchor="middle" textLength="20.6" lengthAdjust="spacingAndGlyphs">1.0</text>
<text x="284.8" y="408.5" text-anchor="middle" textLength="20.6" lengthAdjust="spacingAndGlyphs">0.5</text>
<text x="459.6" y="408.5" text-anchor="middle" textLength="20.6" lengthAdjust="spacingAndGlyphs">0.5</text>
<text x="548.7" y="408.5" text-anchor="middle" textLength="20.6" lengthAdjust="spacingAndGlyphs">1.0</text>
<text x="364.9" y="64.0" text-anchor="end" textLength="20.2" lengthAdjust="spacingAndGlyphs">0.8</text>
<text x="364.9" y="146.5" text-anchor="end" textLength="20.2" lengthAdjust="spacingAndGlyphs">0.6</text>
<text x="364.9" y="229.0" text-anchor="end" textLength="20.2" lengthAdjust="spacingAndGlyphs">0.4</text>
<text x="364.9" y="311.5" text-anchor="end" textLength="20.2" lengthAdjust="spacingAndGlyphs">0.2</text>
<path d="M0.8 405.1h5.9M89.9 405.1h5.9M179.0 405.1h5.9M268.2 405.1h5.9" stroke="#9aadac" stroke-width="1" fill="none"/>
<text x="366.0" y="37.9" font-style="italic" font-size="16px">b</text>
<text x="572.6" y="393.8" font-style="italic" font-size="14.5px">c</text>
</g>
<circle cx="606" cy="169.4" r="4.15" fill="#5e81b5"/>
<circle cx="606" cy="215" r="4.15" fill="#e19c24"/>
<circle cx="606" cy="253.6" r="4.15" fill="#8fb032"/>
<g fill="#e4e4e4" filter="url(#nf)">
<text x="621.6" y="175.4" font-style="italic" font-size="20.5px">b</text>
<text x="633.4" y="180.7" font-size="14.5px" textLength="19.2" lengthAdjust="spacingAndGlyphs">1,1</text>
<text x="636.3" y="164.2" font-size="14.5px">(1)</text>
<text x="621.6" y="220.9" font-style="italic" font-size="20.5px">b</text>
<text x="633.4" y="225.9" font-size="14.5px" textLength="19.2" lengthAdjust="spacingAndGlyphs">1,1</text>
<text x="636.3" y="209.8" font-size="14.5px">(2)</text>
<text x="621.6" y="259.4" font-style="italic" font-size="20.5px">b</text>
<text x="633.4" y="263.4" font-size="14.5px" textLength="19.2" lengthAdjust="spacingAndGlyphs">1,1</text>
</g>
</svg>
</body></html>
